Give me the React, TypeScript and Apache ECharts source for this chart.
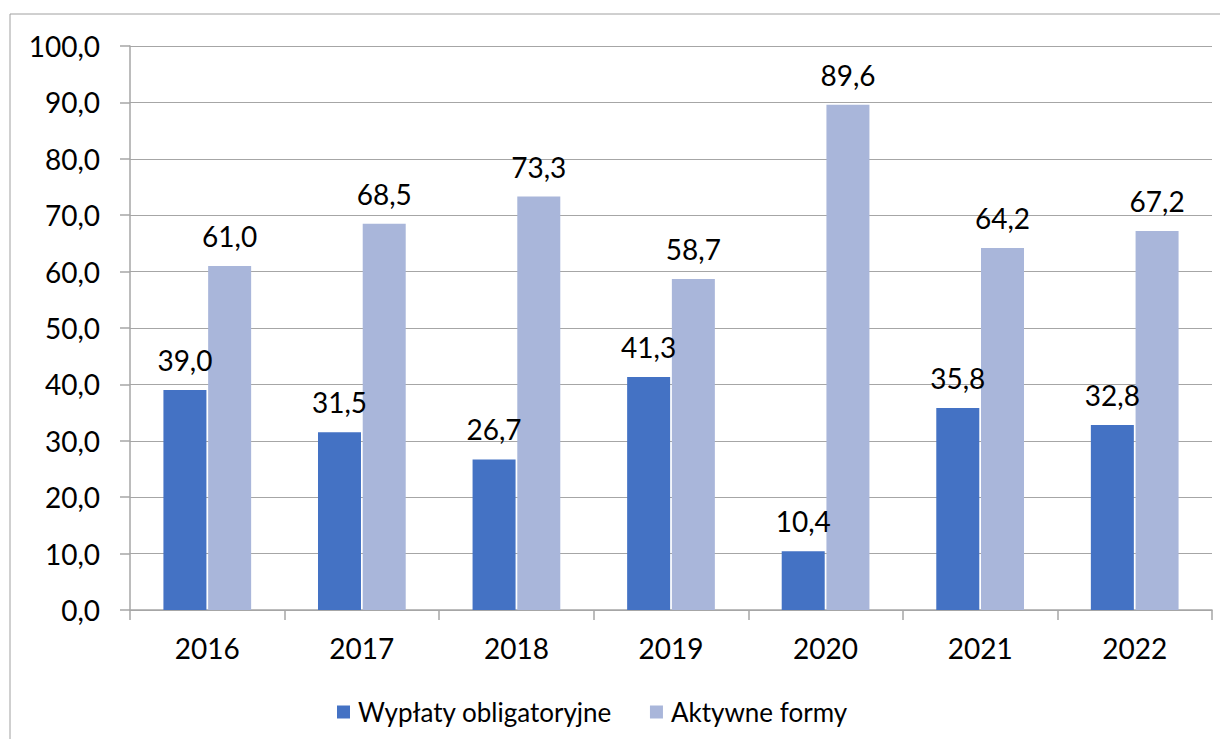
import React, { useEffect, useRef } from "react";
import * as echarts from "echarts";

const categories = ["2016", "2017", "2018", "2019", "2020", "2021", "2022"];
const obligatory = [39.0, 31.5, 26.7, 41.3, 10.4, 35.8, 32.8];
const active = [61.0, 68.5, 73.3, 58.7, 89.6, 64.2, 67.2];
const seriesNames = ["Wypłaty obligatoryjne", "Aktywne formy"];

const fmt = (v: number) => v.toFixed(1).replace(".", ",");
const FONT = "Lato";
const NUM_SIZE = 28;

export default function App() {
  const ref = useRef<HTMLDivElement>(null);
  useEffect(() => {
    const chart = echarts.init(ref.current!, null, { renderer: "svg" });
    const lbl = {
      show: true,
      position: "top",
      distance: 16,
      fontSize: NUM_SIZE,
      color: "#000",
      fontFamily: FONT,
      formatter: (p: any) => fmt(p.value),
    };
    chart.setOption({
      animation: false,
      backgroundColor: "#ffffff",
      textStyle: { fontFamily: FONT },
      graphic: [
        {
          type: "rect",
          shape: { x: 10, y: 14, width: 1240, height: 760 },
          style: { fill: "none", stroke: "#a0a0a0", lineWidth: 1 },
          silent: true,
        },
      ],
      grid: { left: 130, right: 16, top: 46, bottom: 137, containLabel: false },
      legend: {
        bottom: 17,
        left: 332,
        itemWidth: 13,
        itemHeight: 13,
        itemGap: 38,
        icon: "rect",
        textStyle: { fontSize: 26, color: "#000", fontFamily: FONT, padding: [0, 0, 0, 3] },
        data: seriesNames,
      },
      xAxis: {
        type: "category",
        data: categories,
        axisLine: { lineStyle: { color: "#a6a6a6", width: 1.5 } },
        axisTick: { show: true, length: 10, alignWithLabel: false, lineStyle: { color: "#a6a6a6", width: 1.5 } },
        axisLabel: { fontSize: NUM_SIZE, color: "#000", margin: 24, fontFamily: FONT },
      },
      yAxis: {
        type: "value",
        min: 0,
        max: 100,
        interval: 10,
        axisLine: { show: true, lineStyle: { color: "#a6a6a6", width: 1.5 } },
        axisTick: { show: true, length: 10, lineStyle: { color: "#a6a6a6", width: 1.5 } },
        splitLine: { show: true, lineStyle: { color: "#a6a6a6", width: 1 } },
        axisLabel: {
          fontSize: NUM_SIZE,
          color: "#000",
          margin: 30,
          fontFamily: FONT,
          formatter: (v: number) => fmt(v),
        },
      },
      series: [
        {
          name: seriesNames[0],
          type: "bar",
          data: obligatory,
          barWidth: 43,
          barGap: "4%",
          itemStyle: { color: "#4472C4" },
          label: lbl,
        },
        {
          name: seriesNames[1],
          type: "bar",
          data: active,
          barWidth: 43,
          itemStyle: { color: "#A9B6DA" },
          label: lbl,
        },
      ],
    });
    return () => chart.dispose();
  }, []);
  return <div ref={ref} style={{ width: 1228, height: 747, margin: -8 }} />;
}
